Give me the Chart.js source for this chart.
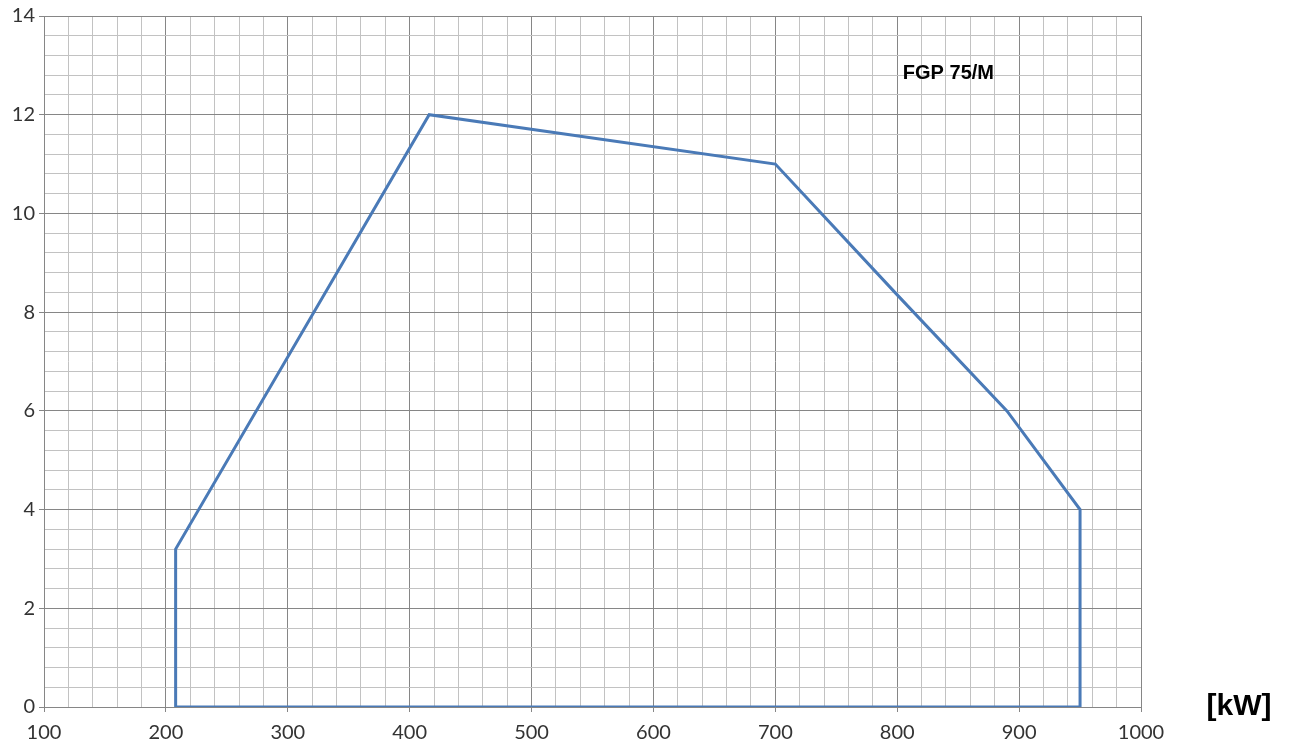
<!DOCTYPE html>
<html>
<head>
<meta charset="utf-8">
<title>FGP 75/M</title>
<script src="https://cdn.jsdelivr.net/npm/chart.js@4"></script>
<style>
  html, body { margin: 0; padding: 0; background: #fff; }
  #wrap { position: relative; width: 1290px; height: 746px; }
</style>
</head>
<body>
<div id="wrap"><canvas id="myChart"></canvas></div>
<script>
// working field of the burner
const capacityKw = [208, 208, 416, 700, 800, 890, 950, 950, 208];
const pressure = [0, 3.2, 12, 11, 8.35, 6, 4, 0, 0];

const xTicks = [100, 200, 300, 400, 500, 600, 700, 800, 900, 1000];
const yTicks = [0, 2, 4, 6, 8, 10, 12, 14];
const modelName = "FGP 75/M";
const unitLabel = "[kW]";

const majorLine = "#868686";
const minorLine = "#c2c2c2";

function isMajor(value, list) {
  return list.some(t => Math.abs(t - value) < 1e-6);
}

// writes the model name in the plot and the unit at the end of the x axis
const textPlugin = {
  id: "chartText",
  afterDraw(chart) {
    const ctx = chart.ctx;
    const x = chart.scales.x;
    const y = chart.scales.y;
    ctx.save();
    ctx.fillStyle = "#000";
    ctx.textAlign = "center";
    ctx.textBaseline = "middle";
    ctx.font = "bold 20px 'Liberation Sans', Arial, sans-serif";
    ctx.fillText(modelName, x.getPixelForValue(842), y.getPixelForValue(12.83));
    ctx.font = "bold 30px 'Liberation Sans', Arial, sans-serif";
    ctx.fillText(unitLabel, chart.chartArea.right + 98, y.getPixelForValue(0));
    ctx.restore();
  }
};

const ctx = document.getElementById("myChart").getContext("2d");
const myChart = new Chart(ctx, {
  type: "scatter",
  data: {
    datasets: [{
      label: modelName,
      data: capacityKw.map((v, i) => ({ x: v, y: pressure[i] })),
      showLine: true,
      borderColor: "#4a7ab7",
      borderWidth: 3,
      pointRadius: 0,
      fill: false,
      tension: 0
    }]
  },
  options: {
    responsive: true,
    maintainAspectRatio: false,
    animation: false,
    layout: { padding: { left: 0, right: 149, top: 15, bottom: 0 } },
    plugins: {
      legend: { display: false },
      tooltip: { enabled: false }
    },
    scales: {
      x: {
        type: "linear",
        min: 100,
        max: 1000,
        afterFit(scale) { scale.height = 39; },
        ticks: {
          stepSize: 20,
          autoSkip: false,
          maxRotation: 0,
          padding: 9,
          color: "#333",
          font: { family: "Lato, 'Open Sans', sans-serif", size: 20 },
          callback: v => isMajor(v, xTicks) ? String(Math.round(v)) : ""
        },
        grid: {
          color: c => isMajor(c.tick.value, xTicks) ? majorLine : minorLine,
          tickColor: c => isMajor(c.tick.value, xTicks) ? majorLine : "rgba(0,0,0,0)",
          tickLength: 5,
          lineWidth: 1
        },
        border: { color: majorLine }
      },
      y: {
        min: 0,
        max: 14,
        afterFit(scale) { scale.width = 44; },
        ticks: {
          stepSize: 0.4,
          autoSkip: false,
          padding: 4,
          color: "#333",
          font: { family: "Lato, 'Open Sans', sans-serif", size: 20 },
          callback: v => isMajor(v, yTicks) ? String(Math.round(v)) : ""
        },
        grid: {
          color: c => isMajor(c.tick.value, yTicks) ? majorLine : minorLine,
          tickColor: c => isMajor(c.tick.value, yTicks) ? majorLine : "rgba(0,0,0,0)",
          tickLength: 5,
          lineWidth: 1
        },
        border: { color: majorLine }
      }
    }
  },
  plugins: [textPlugin]
});
</script>
</body>
</html>
